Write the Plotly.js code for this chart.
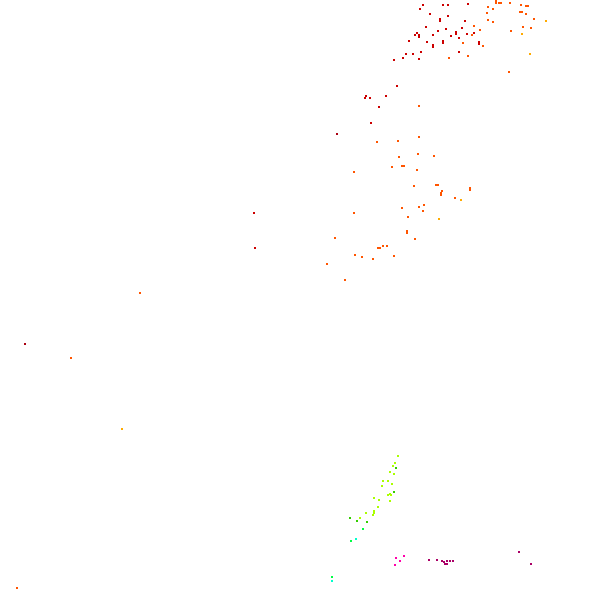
<!DOCTYPE html>
<html>
<head>
<meta charset="utf-8">
<script src="https://cdn.plot.ly/plotly-3.0.1.min.js"></script>
<style>html,body{margin:0;padding:0;background:#fff}#c{width:597px;height:589px}</style>
</head>
<body>
<div id="c"></div>
<script>
const redX=[423,420,443,448,468,430,448,440,440,465,426,417,415,419,419,433,438,446,456,456,462,467,474,451,459,409,427,443,443,433,433,479,479,459,406,413,421,403,419,394,397,366,365,370,386,379,371,254,255];
const redY=[5,9,5,5,4,14,16,19,21,21,27,33,35,35,37,35,31,29,32,34,28,34,33,36,38,41,42,41,43,45,47,42,44,52,54,54,52,58,59,60,86,96,98,98,96,107,123,213,248];
const darkRedX=[337,25];
const darkRedY=[134,344];
const orangeX=[496,496,499,501,510,488,493,521,526,528,487,520,522,526,488,493,534,474,480,523,531,511,463,472,483,449,468,509,419,398,419,377,399,418,434,392,402,404,417,354,436,438,414,442,441,441,470,470,455,419,424,423,402,408,354,407,407,415,335,378,380,383,387,355,362,373,394,327,345,140,71,17];
const orangeY=[1,3,3,3,3,7,9,5,6,6,13,12,12,14,20,22,19,26,30,27,28,31,43,35,46,58,56,72,106,141,137,142,157,154,156,167,166,166,170,172,185,185,186,191,193,195,188,190,198,207,205,211,208,217,213,231,233,239,238,248,248,246,246,255,257,259,256,264,280,293,358,588];
const amberX=[546,522,530,461,439,122];
const amberY=[21,34,54,200,219,429];
const limeX=[398,395,393,390,394,383,388,382,392,390,388,391,374,379,390,378,374,374,366,373,360];
const limeY=[456,463,466,472,474,481,481,486,484,494,495,495,498,500,501,507,511,513,513,515,518];
const greenX=[396,394,350,357,367];
const greenY=[468,492,518,521,522];
const brightGreenX=[363,351,332];
const brightGreenY=[529,541,577];
const cyanX=[356,332];
const cyanY=[539,581];
const magentaX=[396,404,400,395];
const magentaY=[558,556,561,565];
const purpleX=[429,437,442,444,447,445,447,450,453,519,531];
const purpleY=[560,560,561,562,561,564,564,561,561,552,564];

function series(x,y,color){
  return {type:'scatter',mode:'markers',x:x,y:y,hoverinfo:'skip',
    marker:{symbol:'square',size:2,color:color,line:{width:0}}};
}
const data=[
  series(redX,redY,'#cc0000'),
  series(darkRedX,darkRedY,'#aa0011'),
  series(orangeX,orangeY,'#ff5500'),
  series(amberX,amberY,'#ffaa00'),
  series(limeX,limeY,'#aaff00'),
  series(greenX,greenY,'#33cc00'),
  series(brightGreenX,brightGreenY,'#00ff44'),
  series(cyanX,cyanY,'#00ffcc'),
  series(magentaX,magentaY,'#ff00aa'),
  series(purpleX,purpleY,'#aa0066')
];
const layout={
  width:597,height:589,showlegend:false,
  margin:{l:0,r:0,t:0,b:0},
  paper_bgcolor:'#ffffff',plot_bgcolor:'#ffffff',
  xaxis:{range:[0,597],visible:false,fixedrange:true},
  yaxis:{range:[589,0],visible:false,fixedrange:true}
};
Plotly.newPlot('c',data,layout,{displayModeBar:false,staticPlot:true});
</script>
</body>
</html>
